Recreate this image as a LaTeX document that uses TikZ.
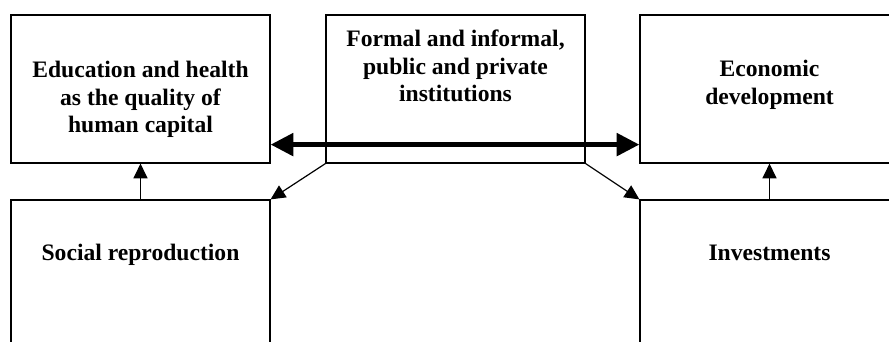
\documentclass[tikz,border=0pt]{standalone}
\usepackage{fontspec}
\newfontfamily\boxfont{Liberation Serif}
\usetikzlibrary{arrows.meta}
\begin{document}
\begin{tikzpicture}[x=0.75pt,y=-0.75pt,
  box/.style={draw=black,line width=0.9pt,minimum width=194.25pt,inner sep=0pt},
  topbox/.style={box,minimum height=111pt},
  lowbox/.style={box,minimum height=150pt},
  label/.style={font=\boxfont\bfseries\fontsize{17.7}{20.6}\selectfont,align=center,inner sep=0pt},
  thin/.style={line width=0.9pt,-{Triangle[length=11pt,width=10.5pt]}},
  thick/.style={line width=3.8pt,{Triangle[length=17pt,width=16.5pt]}-{Triangle[length=17pt,width=16.5pt]}}]
\useasboundingbox (0,0) rectangle (889,342);
\clip (0,0) rectangle (889,342);
\node[topbox] (lt) at (140.5,89) {};
\node[topbox] (mid) at (455.5,89) {};
\node[topbox] (rt) at (769.5,89) {};
\node[lowbox] (lb) at (140.5,300) {};
\node[lowbox] (rb) at (769.5,300) {};
\node[label,anchor=north] (ltt) at (140.5,61) {Education and health\\as the quality of\\human capital};
\node[label,anchor=north] (midt) at (455.5,30) {Formal and informal,\\public and private\\institutions};
\node[label,anchor=north] (rtt) at (769.5,60) {Economic\\development};
\node[label,anchor=base] (lbt) at (140.5,260) {Social reproduction};
\node[label,anchor=base] (rbt) at (769.5,260) {Investments};
\draw[thick] ([yshift=14.25pt]lt.south east) -- ([yshift=14.25pt]rt.south west);
\draw[thin] (mid.south west) -- (lb.north east);
\draw[thin] (mid.south east) -- (rb.north west);
\draw[thin] (lb.north) -- (lt.south);
\draw[thin] (rb.north) -- (rt.south);
\end{tikzpicture}
\end{document}
